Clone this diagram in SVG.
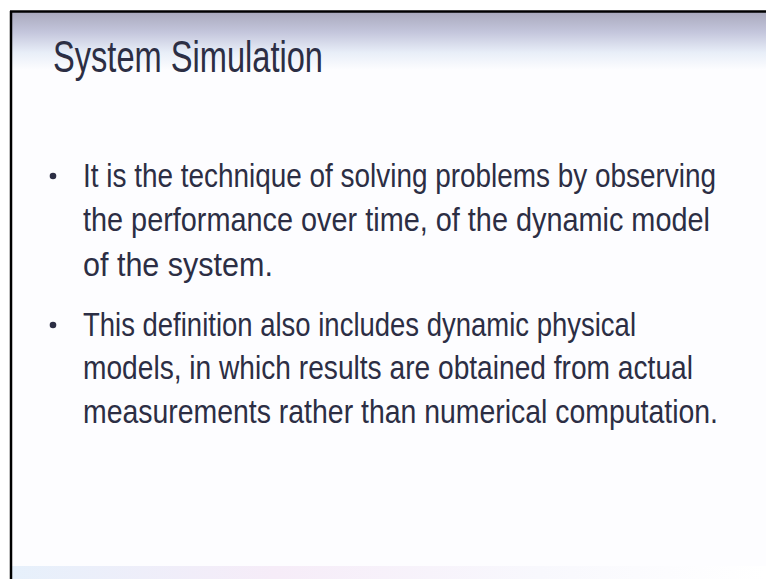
<svg xmlns="http://www.w3.org/2000/svg" width="766" height="579" viewBox="0 0 766 579">
  <style>
    .title { font-family: "Liberation Sans", Arial, sans-serif; font-size: 44px; fill: #2c2e44; }
    .body { font-family: "Liberation Sans", Arial, sans-serif; font-size: 33px; fill: #2c2e44; }
    .dot { fill: #2c2e44; }
  </style>
  <defs>
    <linearGradient id="headBand" x1="0" y1="0" x2="0" y2="1">
      <stop offset="0" stop-color="#a9a9bd"/>
      <stop offset="0.35" stop-color="#c4c6dc"/>
      <stop offset="0.7" stop-color="#e8eef8"/>
      <stop offset="1" stop-color="#fdfdff"/>
    </linearGradient>
    <linearGradient id="footBand" x1="0" y1="0" x2="1" y2="0">
      <stop offset="0" stop-color="#e6f0fb"/>
      <stop offset="0.35" stop-color="#f6ecf8"/>
      <stop offset="0.7" stop-color="#f8f8fd"/>
      <stop offset="1" stop-color="#ffffff"/>
    </linearGradient>
  </defs>

  <!-- page background -->
  <rect x="0" y="0" width="766" height="579" fill="#ffffff"/>
  <rect x="11" y="12" width="755" height="567" fill="#fdfdff"/>
  <rect x="11" y="12" width="755" height="58" fill="url(#headBand)"/>
  <rect x="11" y="566" width="755" height="13" fill="url(#footBand)"/>

  <!-- frame edges -->
  <line x1="10" y1="11.5" x2="766" y2="11.5" stroke="#000" stroke-width="2.5"/>
  <line x1="11" y1="11" x2="11" y2="579" stroke="#000" stroke-width="2.5"/>

  <!-- heading (narrowed horizontally) -->
  <g id="title">
    <g transform="scale(0.85 1)">
      <text class="title" x="62.35" y="72" textLength="317.6" lengthAdjust="spacingAndGlyphs">System Simulation</text>
    </g>
  </g>

  <!-- first point -->
  <g id="point1">
    <circle class="dot" cx="53" cy="176" r="3.3"/>
    <g transform="scale(0.85 1)">
      <text class="body" x="97.65" y="187" textLength="744.7" lengthAdjust="spacingAndGlyphs">It is the technique of solving problems by observing</text>
      <text class="body" x="97.65" y="231" textLength="737.6" lengthAdjust="spacingAndGlyphs">the performance over time, of the dynamic model</text>
      <text class="body" x="97.65" y="276" textLength="223.5" lengthAdjust="spacingAndGlyphs">of the system.</text>
    </g>
  </g>

  <!-- second point -->
  <g id="point2">
    <circle class="dot" cx="53" cy="325" r="3.3"/>
    <g transform="scale(0.85 1)">
      <text class="body" x="97.65" y="336" textLength="650.6" lengthAdjust="spacingAndGlyphs">This definition also includes dynamic physical</text>
      <text class="body" x="97.65" y="379" textLength="717.6" lengthAdjust="spacingAndGlyphs">models, in which results are obtained from actual</text>
      <text class="body" x="97.65" y="423" textLength="747.1" lengthAdjust="spacingAndGlyphs">measurements rather than numerical computation.</text>
    </g>
  </g>
</svg>
